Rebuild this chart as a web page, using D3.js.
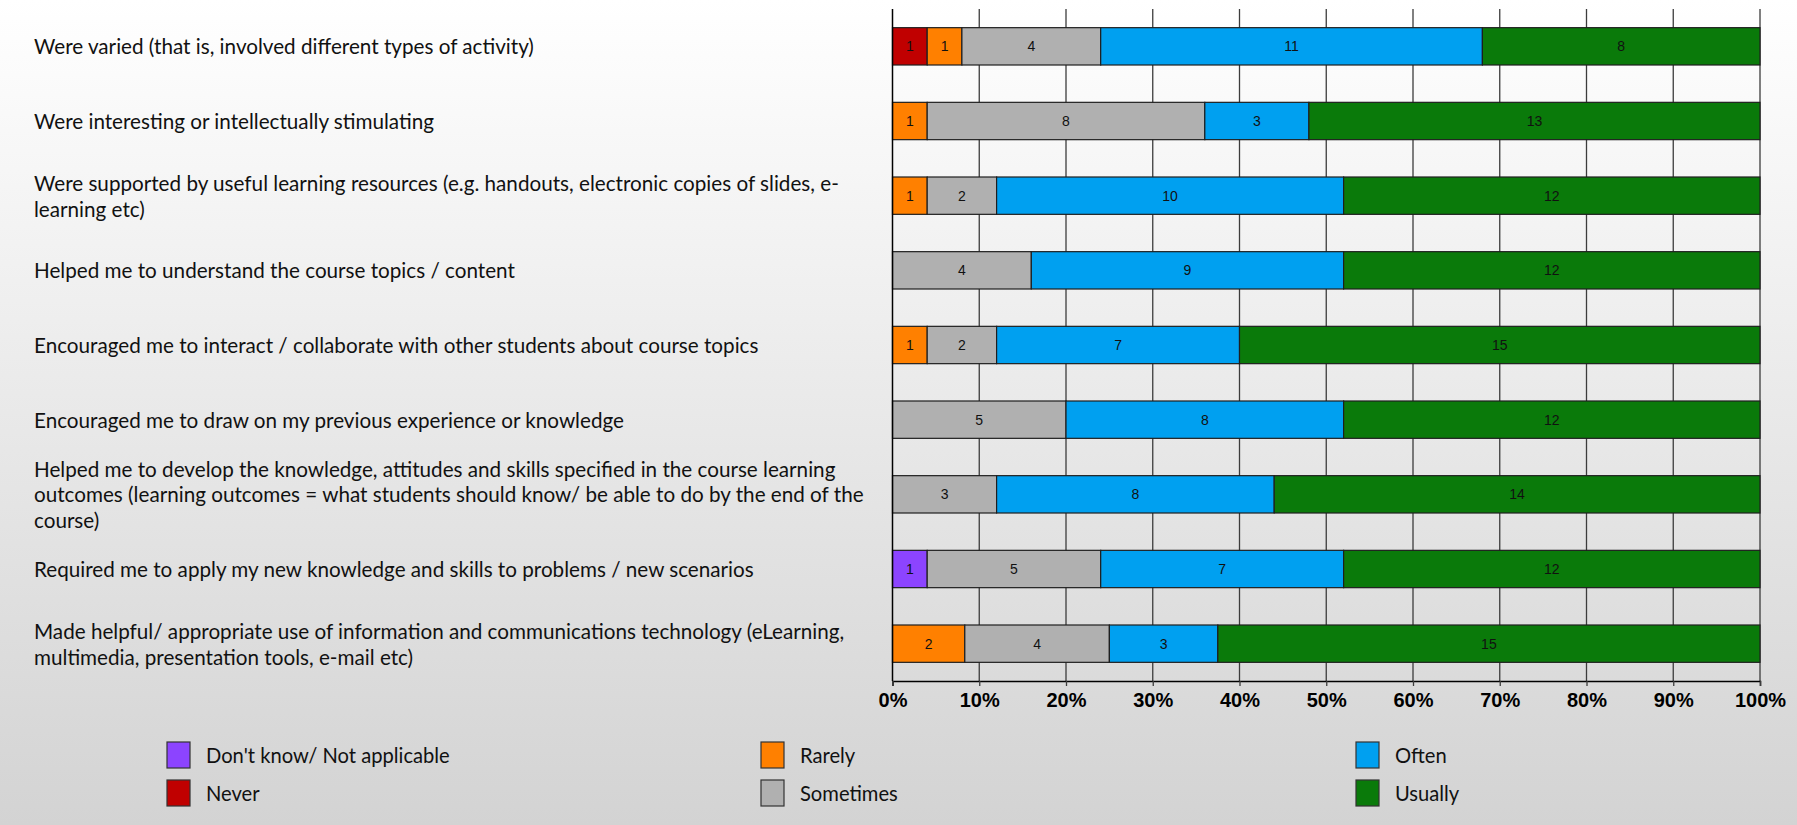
<!DOCTYPE html>
<html>
<head>
<meta charset="utf-8">
<script src="https://cdn.jsdelivr.net/npm/d3@7"></script>
<style>
  html, body { margin: 0; padding: 0; }
  body { width: 1797px; height: 825px; overflow: hidden; }
</style>
</head>
<body>
<svg id="chart" width="1797" height="825"></svg>
<script>
// ---------- DATA ----------
const categories = [
  ["Were varied (that is, involved different types of activity)"],
  ["Were interesting or intellectually stimulating"],
  ["Were supported by useful learning resources (e.g. handouts, electronic copies of slides, e-", "learning etc)"],
  ["Helped me to understand the course topics / content"],
  ["Encouraged me to interact / collaborate with other students about course topics"],
  ["Encouraged me to draw on my previous experience or knowledge"],
  ["Helped me to develop the knowledge, attitudes and skills specified in the course learning", "outcomes (learning outcomes = what students should know/ be able to do by the end of the", "course)"],
  ["Required me to apply my new knowledge and skills to problems / new scenarios"],
  ["Made helpful/ appropriate use of information and communications technology (eLearning,", "multimedia, presentation tools, e-mail etc)"]
];
const seriesNames = ["Don't know/ Not applicable", "Never", "Rarely", "Sometimes", "Often", "Usually"];
const dontKnow  = [0, 0, 0, 0, 0, 0, 0, 1, 0];
const never     = [1, 0, 0, 0, 0, 0, 0, 0, 0];
const rarely    = [1, 1, 1, 0, 1, 0, 0, 0, 2];
const sometimes = [4, 8, 2, 4, 2, 5, 3, 5, 4];
const often     = [11, 3, 10, 9, 7, 8, 8, 7, 3];
const usually   = [8, 13, 12, 12, 15, 12, 14, 12, 15];
const tickValues = [0, 0.1, 0.2, 0.3, 0.4, 0.5, 0.6, 0.7, 0.8, 0.9, 1.0];
const seriesColors = ["#8c44ff", "#c00000", "#ff8000", "#b0b0b0", "#00a0f0", "#0a7a0a"];

// ---------- BUILD ----------
const seriesValues = [dontKnow, never, rarely, sometimes, often, usually];
const rows = categories.map((c, i) => {
  const o = { idx: i };
  seriesNames.forEach((s, j) => o[s] = seriesValues[j][i]);
  o.total = d3.sum(seriesValues, v => v[i]);
  return o;
});
const stack = d3.stack().keys(seriesNames)
  .value((d, key) => d[key] / d.total);
const stacked = stack(rows);

const svg = d3.select("#chart");
const W = 1797, H = 825;

// background gradient
const defs = svg.append("defs");
const grad = defs.append("linearGradient").attr("id", "bg")
  .attr("x1", 0).attr("y1", 0).attr("x2", 0).attr("y2", 1);
grad.append("stop").attr("offset", "0%").attr("stop-color", "#ffffff");
grad.append("stop").attr("offset", "100%").attr("stop-color", "#d3d3d3");
svg.append("rect").attr("width", W).attr("height", H).attr("fill", "url(#bg)");

const plot = { left: 892.5, right: 1760, top: 9, bottom: 681 };
const x = d3.scaleLinear().domain([0, 1]).range([plot.left, plot.right]);
const y = d3.scaleBand().domain(d3.range(categories.length))
  .range([plot.top, plot.bottom]).paddingInner(0.5).paddingOuter(0.25);

// gridlines
svg.append("g").selectAll("line").data(tickValues.slice(1)).join("line")
  .attr("x1", d => x(d)).attr("x2", d => x(d))
  .attr("y1", plot.top).attr("y2", plot.bottom)
  .attr("stroke", "#3c3c3c").attr("stroke-width", 1.3);

// bars
const segs = svg.append("g");
stacked.forEach((layer, j) => {
  const g = segs.append("g").attr("fill", seriesColors[j]);
  layer.forEach((d, i) => {
    if (d[1] - d[0] <= 0) return;
    g.append("rect")
      .attr("x", x(d[0])).attr("y", y(i))
      .attr("width", x(d[1]) - x(d[0])).attr("height", y.bandwidth())
      .attr("stroke", "#1e1e1e").attr("stroke-width", 1.2);
    segs.append("text")
      .attr("x", (x(d[0]) + x(d[1])) / 2).attr("y", y(i) + y.bandwidth() / 2)
      .attr("text-anchor", "middle").attr("dominant-baseline", "central")
      .attr("font-family", "'Liberation Sans', Arial, sans-serif")
      .attr("font-size", 14).attr("fill", "#111")
      .text(seriesValues[j][i]);
  });
});

// left axis line
svg.append("line").attr("x1", plot.left).attr("x2", plot.left)
  .attr("y1", plot.top).attr("y2", plot.bottom)
  .attr("stroke", "#000").attr("stroke-width", 1.5);

// x axis
const xAxis = d3.axisBottom(x).tickValues(tickValues)
  .tickFormat(d3.format(".0%")).tickSize(5).tickPadding(7);
const gx = svg.append("g").attr("transform", `translate(0,${plot.bottom})`).call(xAxis);
gx.select(".domain").attr("stroke", "#000").attr("stroke-width", 1.5);
gx.selectAll(".tick line").attr("stroke", "#3c3c3c").attr("stroke-width", 1.3);
gx.selectAll(".tick text")
  .attr("font-family", "'Liberation Sans', Arial, sans-serif")
  .attr("font-size", 20).attr("font-weight", "bold").attr("fill", "#000");

// category labels
const labFont = "Lato, 'Open Sans', sans-serif";
const probe = svg.append("text").attr("font-family", labFont).attr("font-size", 20)
  .text(categories[0][0]);
const k = 500 / probe.node().getComputedTextLength();
probe.remove();
const labSize = 20 * k;
const lineH = 25.8;
const lg = svg.append("g");
categories.forEach((lines, i) => {
  const cy = y(i) + y.bandwidth() / 2;
  const t = lg.append("text")
    .attr("font-family", labFont).attr("font-size", labSize).attr("fill", "#111")
    .attr("dominant-baseline", "central");
  lines.forEach((ln, li) => {
    t.append("tspan").attr("x", 34)
      .attr("y", cy + (li - (lines.length - 1) / 2) * lineH)
      .text(ln);
  });
});

// legend
const legendCols = [167, 761, 1356];
const legendRows = [755, 793];
const legendOrder = [0, 1, 2, 3, 4, 5];
const leg = svg.append("g");
const probe2 = svg.append("text").attr("font-family", labFont).attr("font-size", 20)
  .text(seriesNames[0]);
const k2 = 244 / probe2.node().getComputedTextLength();
probe2.remove();
legendOrder.forEach((j, n) => {
  const cx = legendCols[Math.floor(n / 2)];
  const cy = legendRows[n % 2];
  leg.append("rect").attr("x", cx).attr("y", cy - 13)
    .attr("width", 23).attr("height", 26)
    .attr("fill", seriesColors[j]).attr("stroke", "#333").attr("stroke-width", 1.2);
  leg.append("text").attr("x", cx + 39).attr("y", cy)
    .attr("dominant-baseline", "central")
    .attr("font-family", labFont).attr("font-size", 20 * k2).attr("fill", "#111")
    .text(seriesNames[j]);
});
</script>
</body>
</html>
